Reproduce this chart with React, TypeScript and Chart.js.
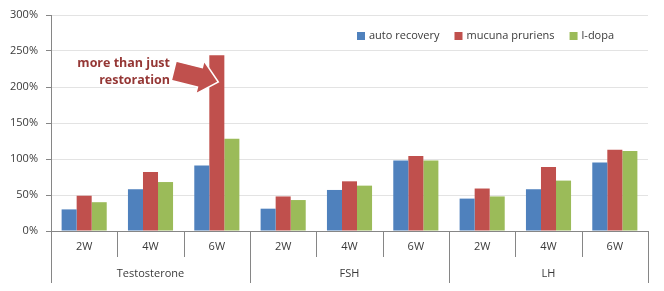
import React, { useEffect, useRef } from "react";
import { Chart, registerables } from "chart.js";

Chart.register(...registerables);

const groups = ["Testosterone", "FSH", "LH"];
const weeks = ["2W", "4W", "6W"];
const autoRecovery = [30, 58, 91, 31, 57, 98, 45, 58, 95];
const mucunaPruriens = [49, 82, 244, 48, 69, 104, 59, 89, 113];
const lDopa = [40, 68, 128, 43, 63, 98, 48, 70, 111];
const seriesNames = ["auto recovery", "mucuna pruriens", "l-dopa"];
const seriesColors = ["#4F81BD", "#C0504D", "#9BBB59"];
const yTicks = [0, 50, 100, 150, 200, 250, 300];
const annotationLines = ["more than just", "restoration"];
const annotationTarget = { dataset: 1, index: 2, value: 207 };

const FONT = "'Open Sans', 'DejaVu Sans', sans-serif";
const TEXT = "#3a3a3a";
const AXIS = "#868686";

const overlay = {
  id: "overlay",
  afterDraw(chart: any) {
    const { ctx, chartArea, scales } = chart;
    const x = scales.x;
    const y = scales.y;
    const n = x.ticks.length;
    const bottom = chartArea.bottom;
    ctx.save();
    // separators
    ctx.strokeStyle = AXIS;
    ctx.lineWidth = 1;
    for (let i = 0; i <= n; i++) {
      let bx;
      if (i === 0) bx = chartArea.left;
      else if (i === n) bx = chartArea.right;
      else bx = (x.getPixelForValue(i - 1) + x.getPixelForValue(i)) / 2;
      bx = Math.round(bx) + 0.5;
      const len = i % weeks.length === 0 ? 52 : 26;
      ctx.beginPath();
      ctx.moveTo(bx, bottom);
      ctx.lineTo(bx, bottom + len);
      ctx.stroke();
    }
    // labels
    ctx.fillStyle = TEXT;
    ctx.font = `11px ${FONT}`;
    ctx.textAlign = "center";
    ctx.textBaseline = "middle";
    for (let i = 0; i < n; i++) {
      ctx.fillText(weeks[i % weeks.length], x.getPixelForValue(i), bottom + 16);
    }
    groups.forEach((g, gi) => {
      const a = x.getPixelForValue(gi * weeks.length);
      const b = x.getPixelForValue(gi * weeks.length + weeks.length - 1);
      ctx.fillText(g, (a + b) / 2, bottom + 43);
    });
    // legend
    let lx = chartArea.left + 306;
    const ly = chartArea.top + 21;
    ctx.textAlign = "left";
    seriesNames.forEach((name, i) => {
      ctx.fillStyle = seriesColors[i];
      ctx.fillRect(lx, ly - 4, 8, 8);
      ctx.fillStyle = TEXT;
      ctx.fillText(name, lx + 12, ly);
      lx += 12 + ctx.measureText(name).width + 15;
    });
    // annotation arrow
    const bar = chart.getDatasetMeta(annotationTarget.dataset).data[annotationTarget.index];
    const tipX = bar.x - bar.width / 2 + 9;
    const tipY = y.getPixelForValue(annotationTarget.value);
    ctx.translate(tipX, tipY);
    ctx.rotate((14 * Math.PI) / 180);
    ctx.beginPath();
    ctx.moveTo(0, 0);
    ctx.lineTo(-19, -17);
    ctx.lineTo(-19, -10);
    ctx.lineTo(-46, -10);
    ctx.lineTo(-46, 10);
    ctx.lineTo(-19, 10);
    ctx.lineTo(-19, 17);
    ctx.closePath();
    ctx.fillStyle = "#C0504D";
    ctx.fill();
    ctx.strokeStyle = "#ffffff";
    ctx.lineWidth = 1.5;
    ctx.stroke();
    ctx.setTransform(1, 0, 0, 1, 0, 0);
    // annotation text
    ctx.fillStyle = "#953735";
    ctx.font = `bold 12.5px ${FONT}`;
    ctx.textAlign = "right";
    ctx.fillText(annotationLines[0], 170, 63);
    ctx.fillText(annotationLines[1], 170, 80);
    ctx.restore();
  },
};

export default function App() {
  const ref = useRef<HTMLCanvasElement>(null);
  useEffect(() => {
    document.body.style.margin = "0";
    const labels = groups.flatMap((g) => weeks.map((w) => `${g} ${w}`));
    const data = [autoRecovery, mucunaPruriens, lDopa];
    const chart = new Chart(ref.current as HTMLCanvasElement, {
      type: "bar",
      data: {
        labels,
        datasets: data.map((d, i) => ({
          label: seriesNames[i],
          data: d,
          backgroundColor: seriesColors[i],
          borderWidth: 0,
          categoryPercentage: 0.68,
          barPercentage: 1,
        })),
      },
      options: {
        responsive: false,
        animation: false,
        layout: { padding: { top: 15, right: 16, left: 0, bottom: 0 } },
        plugins: { legend: { display: false }, tooltip: { enabled: false } },
        scales: {
          x: {
            grid: { display: false },
            border: { display: true, color: AXIS },
            ticks: { display: false },
            afterFit: (s: any) => {
              s.height = 60;
            },
          },
          y: {
            min: 0,
            max: 300,
            afterBuildTicks: (s: any) => {
              s.ticks = yTicks.map((v) => ({ value: v }));
            },
            ticks: {
              callback: (v: any) => `${v}%`,
              color: TEXT,
              font: { family: FONT, size: 11 },
              padding: 8,
            },
            grid: { color: "#E3E3E3", tickColor: AXIS, tickLength: 5 },
            border: { color: AXIS },
            afterFit: (s: any) => {
              s.width = 51;
            },
          },
        },
      },
      plugins: [overlay],
    });
    return () => chart.destroy();
  }, []);
  return <canvas ref={ref} width={664} height={291} style={{ display: "block" }} />;
}
